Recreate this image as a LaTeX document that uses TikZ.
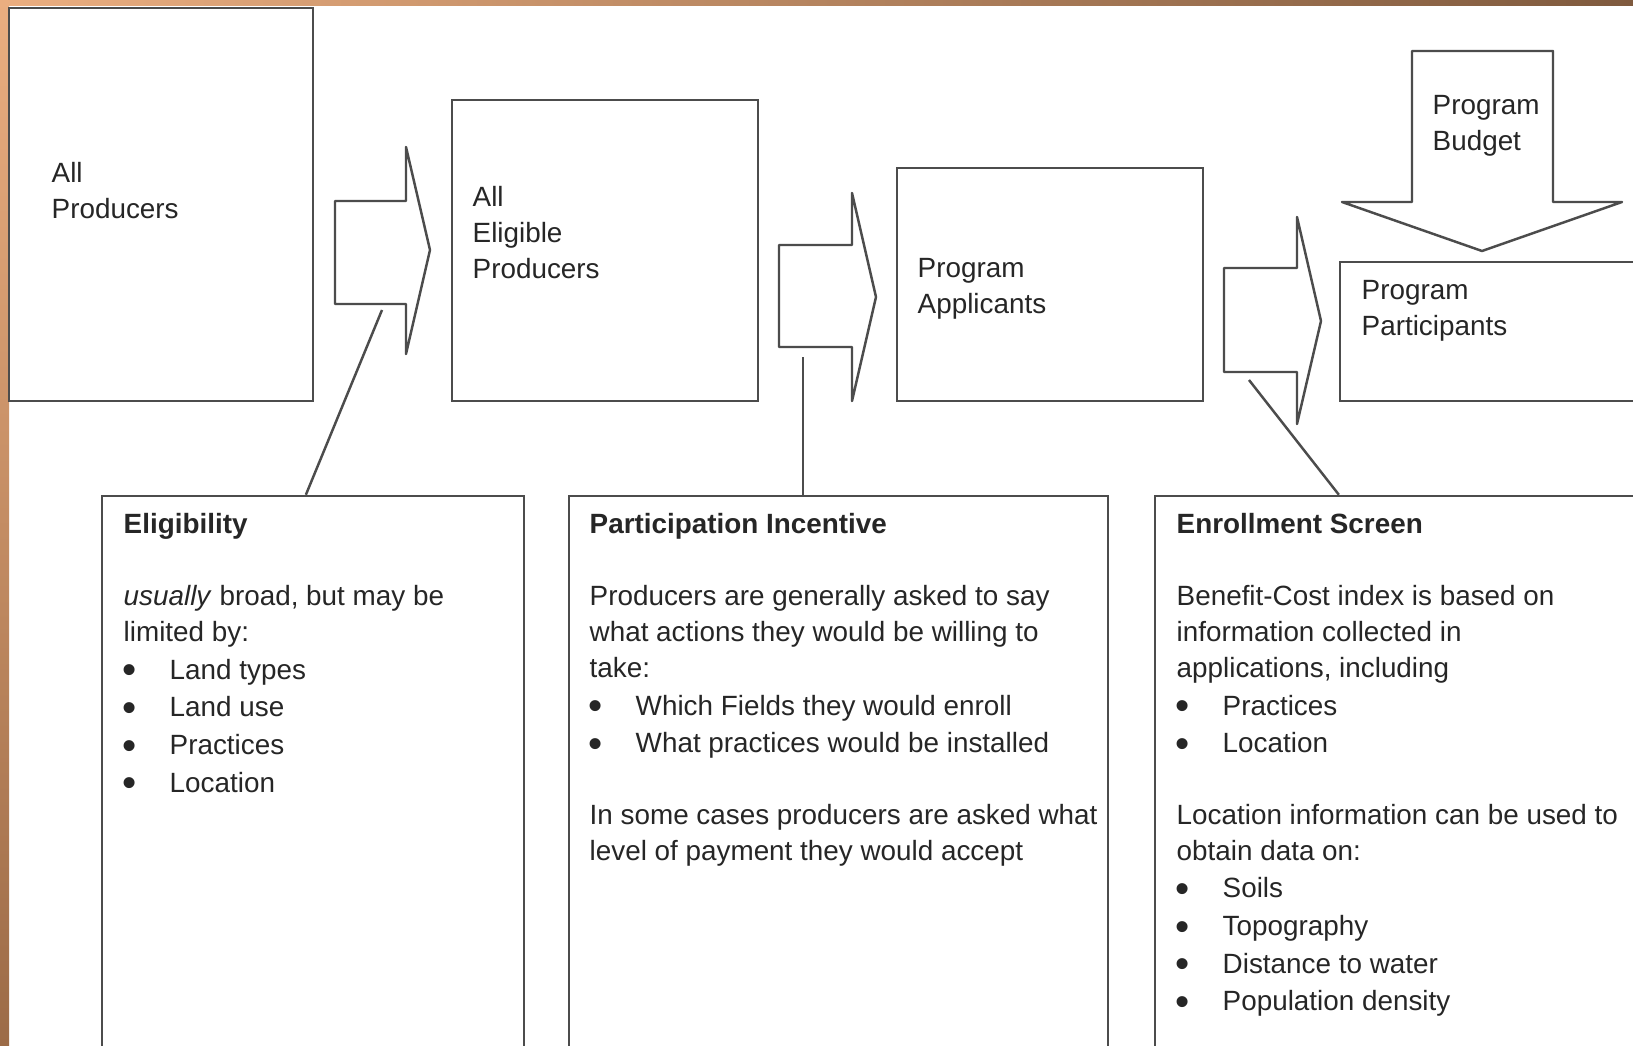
\documentclass[tikz,border=0pt]{standalone}
\usepackage{fontspec}
\setmainfont{Liberation Sans}
\usetikzlibrary{fit}

\definecolor{frameorange}{RGB}{235,174,128}
\definecolor{framemid}{RGB}{184,133,96}
\definecolor{framebrown}{RGB}{127,90,62}
\definecolor{framelow}{RGB}{156,107,71}

\newcommand{\bul}{\makebox[0.46cm][l]{\hspace{-0.3pt}\raisebox{-1.3pt}{\fontsize{11.5pt}{0pt}\selectfont\textbullet}}}

\begin{document}
\begin{tikzpicture}[x=0.01cm, y=-0.01cm,
  box/.style={draw=black!70, line width=0.7pt, inner sep=0pt},
  blockarrow/.style={draw=black!70, line width=0.7pt, line join=round, fill=white},
  link/.style={draw=black!70, line width=0.7pt},
  lbl/.style={anchor=base west, inner sep=0pt, text=black!85, font=\fontsize{7.92pt}{10.2pt}\selectfont}]
\useasboundingbox (0,0) rectangle (1633,1046);
\clip (0,0) rectangle (1633,1046);
\fill [white] (0,0) rectangle (1633,1046);

% frame
\shade [top color=frameorange, middle color=frameorange!75!framelow, bottom color=framelow] (0,0) rectangle (9,1046);
\shade [left color=frameorange, middle color=framemid, right color=framebrown] (0,0) rectangle (1633,6);

% top row
\node [box, fit={(9,8) (313,401)}] (allprod) {};
\node [box, fit={(452,100) (758,401)}] (eligprod) {};
\node [box, fit={(897,168) (1203,401)}] (applicants) {};
\node [box, fit={(1340,262) (1700,401)}] (participants) {};

\node [lbl] (allprodtxt) at (51,183) {\parbox[t]{3cm}{All\\Producers}};
\node [lbl] (eligprodtxt) at (472,207) {\parbox[t]{3cm}{All\\Eligible\\Producers}};
\node [lbl] (applicantstxt) at (917,278) {\parbox[t]{3cm}{Program\\Applicants}};
\node [lbl] (participantstxt) at (1361,300) {\parbox[t]{3cm}{Program\\Participants}};

\draw [blockarrow] (335,201) -- (406,201) -- (406,147) -- (430,250) -- (406,354) -- (406,304) -- (335,304) -- cycle;
\draw [blockarrow] (779,245) -- (852,245) -- (852,193) -- (876,297) -- (852,401) -- (852,347) -- (779,347) -- cycle;
\draw [blockarrow] (1224,268) -- (1297,268) -- (1297,217) -- (1321,321) -- (1297,424) -- (1297,372) -- (1224,372) -- cycle;
\draw [blockarrow] (1412,51) -- (1553,51) -- (1553,202) -- (1622,202) -- (1482,251) -- (1342,202) -- (1412,202) -- cycle;
\node [lbl] (budgettxt) at (1432,115) {\parbox[t]{3cm}{Program\\Budget}};

\coordinate (foot1) at (382,310);
\coordinate (foot2) at (803,357);
\coordinate (foot3) at (1249,380);

% lower row
\node [box, fit={(102,496) (524,1090)}] (elig) {};
\node [box, fit={(569,496) (1108,1090)}] (incentive) {};
\node [box, fit={(1155,496) (1700,1090)}] (screen) {};

\draw [link] ([xshift=2.05cm]elig.north west) -- (foot1);
\draw [link] (incentive.north -| foot2) -- (foot2);
\draw [link] ([xshift=1.85cm]screen.north west) -- (foot3);

\node [lbl] (eligtxt) at (123,534) {\parbox[t]{6cm}{\textbf{Eligibility}\\[10.2pt]
\textit{usually} broad, but may be\\
limited by:\\[0.5pt]
\bul Land types\\[0.5pt]
\bul Land use\\[0.5pt]
\bul Practices\\[0.5pt]
\bul Location}};

\node [lbl] (incentivetxt) at (589,534) {\parbox[t]{6cm}{\textbf{Participation Incentive}\\[10.2pt]
Producers are generally asked to say\\
what actions they would be willing to\\
take:\\[0.5pt]
\bul Which Fields they would enroll\\[0.5pt]
\bul What practices would be installed\\[10.2pt]
In some cases producers are asked what\\
level of payment they would accept}};

\node [lbl] (screentxt) at (1176,534) {\parbox[t]{6cm}{\textbf{Enrollment Screen}\\[10.2pt]
Benefit-Cost index is based on\\
information collected in\\
applications, including\\[0.5pt]
\bul Practices\\[0.5pt]
\bul Location\\[10.2pt]
Location information can be used to\\
obtain data on:\\[0.5pt]
\bul Soils\\[0.5pt]
\bul Topography\\[0.5pt]
\bul Distance to water\\[0.5pt]
\bul Population density}};
\end{tikzpicture}
\end{document}
